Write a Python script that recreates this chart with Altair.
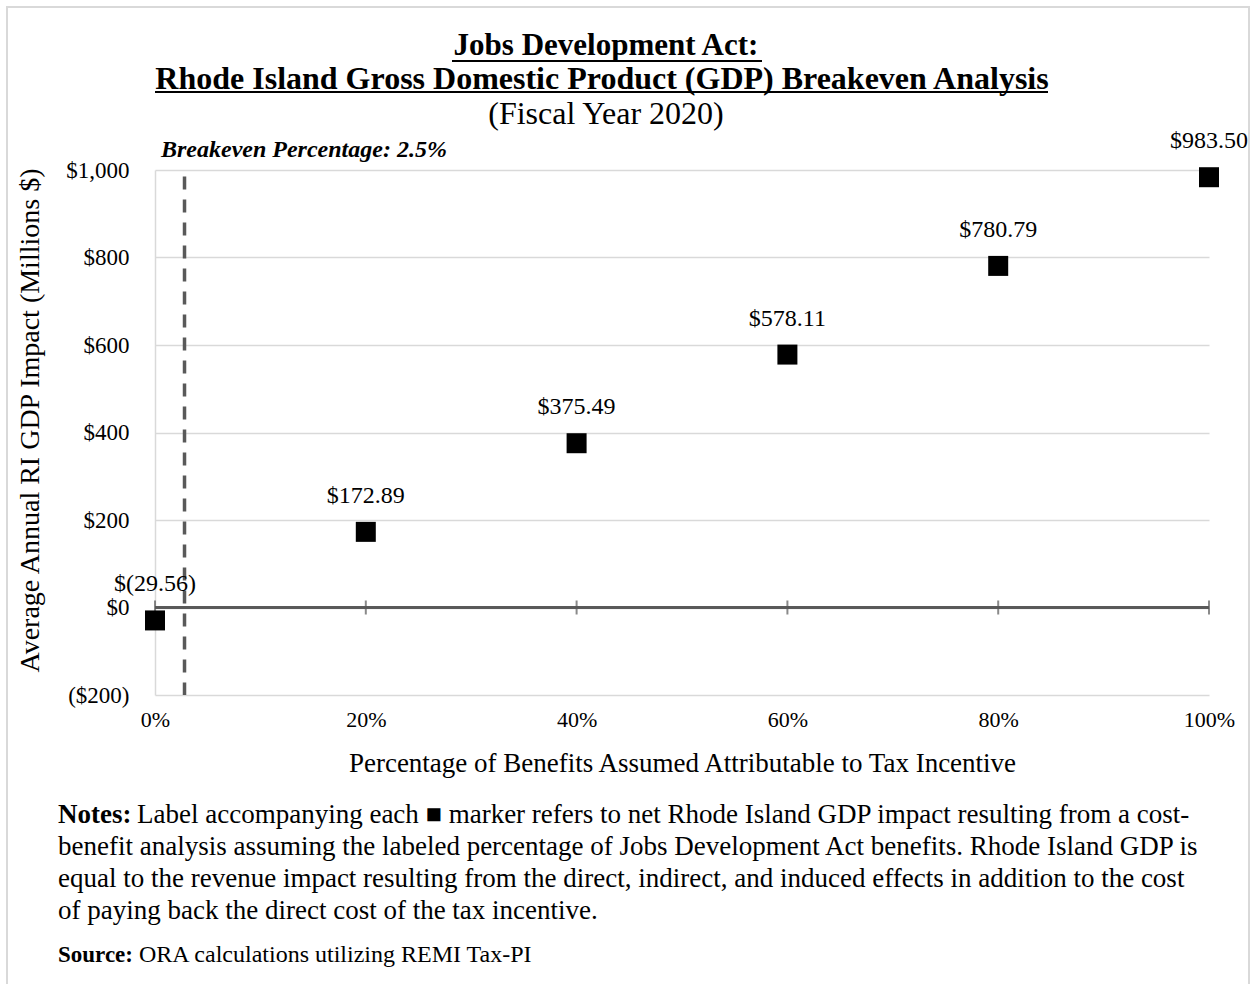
import altair as alt
import pandas as pd

# ---- data ----
pct = [0, 20, 40, 60, 80, 100]
gdp = [-29.56, 172.89, 375.49, 578.11, 780.79, 983.50]
breakeven_pct = [2.8]
y_ticks = [-200, 0, 200, 400, 600, 800, 1000]
x_ticks = [0, 20, 40, 60, 80, 100]

title_lines = ["Jobs Development Act:", "Rhode Island Gross Domestic Product (GDP) Breakeven Analysis"]
subtitle = "(Fiscal Year 2020)"
notes_first = "Label accompanying each \u25a0 marker refers to net Rhode Island GDP impact resulting from a cost-"
notes_rest_lines = [
    "benefit analysis assuming the labeled percentage of Jobs Development Act benefits. Rhode Island GDP is",
    "equal to the revenue impact resulting from the direct, indirect, and induced effects in addition to the cost",
    "of paying back the direct cost of the tax incentive.",
]
source_text = "ORA calculations utilizing REMI Tax-PI"

def money(v):
    return "$(%.2f)" % abs(v) if v < 0 else "$%.2f" % v

df = pd.DataFrame({"pct": pct, "gdp": gdp, "label": [money(v) for v in gdp]})
ticks_df = pd.DataFrame({"pct": x_ticks})
be_df = pd.DataFrame({"pct": breakeven_pct})

FONT = "Liberation Serif"
GRID = "#d9d9d9"
DARK = "#595959"

W, H = 1054, 525
PAD_L, PAD_T = 155, 170

x_scale = alt.Scale(domain=[0, 100], nice=False, zero=False)
y_scale = alt.Scale(domain=[-200, 1000], nice=False)

x_axis = alt.Axis(
    values=x_ticks,
    labelExpr="datum.value + '%'",
    title="Percentage of Benefits Assumed Attributable to Tax Incentive",
    grid=False, domain=False, ticks=False, labelFlush=False,
    labelFont=FONT, labelFontSize=22, labelColor="black", labelPadding=14,
    titleFont=FONT, titleFontSize=27, titleFontWeight="normal", titleColor="black",
    titleY=68, titleBaseline="middle",
)
y_axis = alt.Axis(
    values=y_ticks,
    labelExpr="datum.value < 0 ? '($' + format(-datum.value, ',') + ')' : '$' + format(datum.value, ',')",
    title="Average Annual RI GDP Impact (Millions $)",
    grid=True, gridColor=GRID, gridWidth=1.5,
    domain=True, domainColor=GRID, domainWidth=1.5,
    ticks=False,
    labelFont=FONT, labelFontSize=23, labelColor="black", labelPadding=26,
    titleFont=FONT, titleFontSize=28, titleFontWeight="normal", titleColor="black",
    titleX=-125, titleY=250, titleAngle=-90, titleBaseline="middle", titleAlign="center",
)

base = alt.Chart(df)

points = base.mark_square(size=400, filled=True, color="black", opacity=1).encode(
    x=alt.X("pct:Q", scale=x_scale, axis=x_axis),
    y=alt.Y("gdp:Q", scale=y_scale, axis=y_axis),
)

labels = base.mark_text(font=FONT, fontSize=24, color="black", dy=-36, baseline="middle").encode(
    x=alt.X("pct:Q", scale=x_scale),
    y=alt.Y("gdp:Q", scale=y_scale),
    text="label:N",
)

zero_line = alt.Chart(ticks_df).mark_rule(color=DARK, strokeWidth=2).encode(
    x=alt.datum(0, scale=x_scale), x2=alt.datum(100), y=alt.datum(0, scale=y_scale)
)
zero_ticks = alt.Chart(ticks_df).mark_tick(color=DARK, thickness=2, size=14, orient="vertical").encode(
    x=alt.X("pct:Q", scale=x_scale), y=alt.datum(0, scale=y_scale)
)

be_line = alt.Chart(be_df).mark_rule(color=DARK, strokeWidth=3.5, strokeDash=[13, 10]).encode(
    x=alt.X("pct:Q", scale=x_scale), y=alt.datum(985, scale=y_scale), y2=alt.datum(-200)
)

be_text = alt.Chart(be_df).mark_text(
    font=FONT, fontSize=24, fontWeight="bold", fontStyle="italic", align="left", baseline="middle", color="black"
).encode(x=alt.value(6), y=alt.value(-20), text=alt.value("Breakeven Percentage: 2.5%"))

# title block (centered at x=606 px of the page)
TX = 606 - PAD_L
t1 = alt.Chart(be_df).mark_text(font=FONT, fontSize=31, fontWeight="bold", color="black",
                                baseline="middle", align="center").encode(
    x=alt.value(TX), y=alt.value(46 - PAD_T), text=alt.value(title_lines[0]))
t2 = alt.Chart(be_df).mark_text(font=FONT, fontSize=32, fontWeight="bold", color="black",
                                baseline="middle", align="center").encode(
    x=alt.value(TX - 4), y=alt.value(79 - PAD_T), text=alt.value(title_lines[1]))
t3 = alt.Chart(be_df).mark_text(font=FONT, fontSize=32, color="black",
                                baseline="middle", align="center").encode(
    x=alt.value(TX), y=alt.value(114 - PAD_T), text=alt.value(subtitle))

# underlines for the two title lines
ul1 = alt.Chart(be_df).mark_rule(color="black", strokeWidth=2).encode(
    x=alt.value(452 - PAD_L), x2=alt.value(762 - PAD_L), y=alt.value(61 - PAD_T))
ul2 = alt.Chart(be_df).mark_rule(color="black", strokeWidth=2).encode(
    x=alt.value(155 - PAD_L), x2=alt.value(1048 - PAD_L), y=alt.value(92 - PAD_T))

# outer frame
frame = alt.Chart(be_df).mark_rect(fill=None, stroke=GRID, strokeWidth=2).encode(
    x=alt.value(7 - PAD_L), x2=alt.value(1249 - PAD_L), y=alt.value(7 - PAD_T), y2=alt.value(1010 - PAD_T))

note_style = dict(font=FONT, fontSize=27, color="black", align="left", baseline="middle")
notes_bold = alt.Chart(be_df).mark_text(fontWeight="bold", **note_style).encode(
    x=alt.value(58 - PAD_L), y=alt.value(815 - PAD_T), text=alt.value("Notes:"))
notes_l1 = alt.Chart(be_df).mark_text(**note_style).encode(
    x=alt.value(137 - PAD_L), y=alt.value(815 - PAD_T), text=alt.value(notes_first))
notes_rest = alt.Chart(be_df).mark_text(lineHeight=32, **note_style).encode(
    x=alt.value(58 - PAD_L), y=alt.value(847 - PAD_T), text=alt.value(notes_rest_lines))
src_style = dict(note_style, fontSize=24)
src_bold = alt.Chart(be_df).mark_text(fontWeight="bold", **dict(src_style, fontSize=23)).encode(
    x=alt.value(58 - PAD_L), y=alt.value(955 - PAD_T), text=alt.value("Source:"))
src_text = alt.Chart(be_df).mark_text(**src_style).encode(
    x=alt.value(139 - PAD_L), y=alt.value(955 - PAD_T), text=alt.value(source_text))

chart = alt.layer(
    frame, be_line, zero_line, zero_ticks, points, labels, be_text, t1, t2, t3, ul1, ul2,
    notes_bold, notes_l1, notes_rest, src_bold, src_text,
).properties(
    width=W, height=H,
).configure(
    autosize=alt.AutoSizeParams(type="none"),
    padding={"left": PAD_L, "top": PAD_T, "right": 1252 - PAD_L - W, "bottom": 984 - PAD_T - H},
    background="white",
).configure_view(stroke=None)

chart.save("out.html", embed_options={"renderer": "svg", "actions": False})
